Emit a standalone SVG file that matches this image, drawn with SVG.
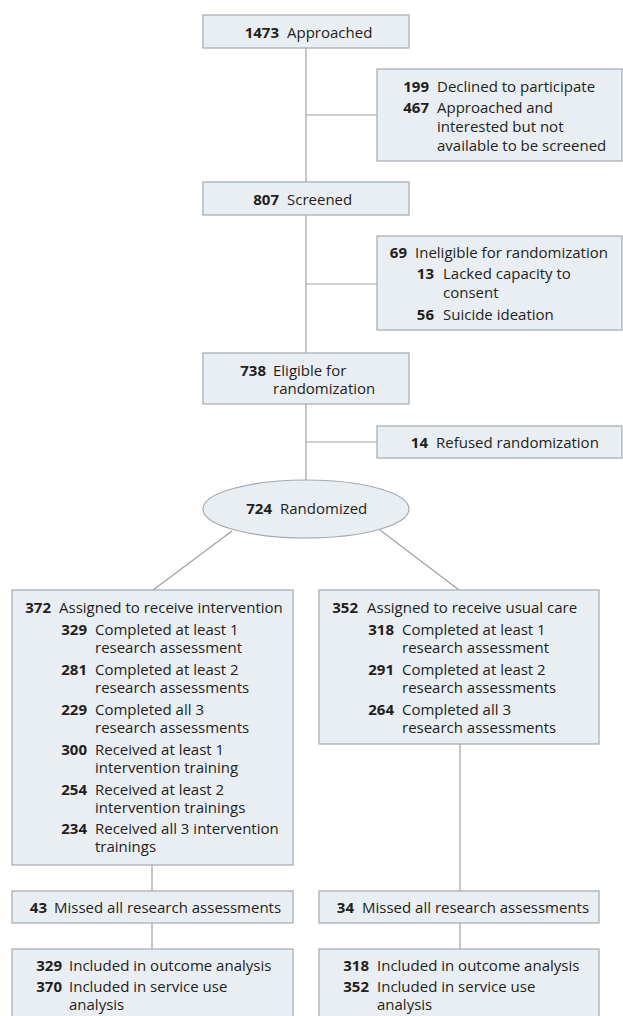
<svg xmlns="http://www.w3.org/2000/svg" width="623" height="1016" viewBox="0 0 623 1016">
<style>
.box{fill:#e9eef2;stroke:#a3aaaf;stroke-width:1.2}
.ln{stroke:#a0a0a0;stroke-width:1.2;fill:none}
text{font-family:"Open Sans","Liberation Sans",sans-serif;font-size:15px;fill:#231f20}
.n{font-weight:bold;text-anchor:end}
</style>
<rect width="623" height="1016" fill="#ffffff"/>
<g id="connectors">
<line class="ln" x1="306" y1="48" x2="306" y2="182"/>
<line class="ln" x1="306" y1="115" x2="377" y2="115"/>
<line class="ln" x1="306" y1="215" x2="306" y2="353"/>
<line class="ln" x1="306" y1="284" x2="377" y2="284"/>
<line class="ln" x1="306" y1="404" x2="306" y2="480"/>
<line class="ln" x1="306" y1="442" x2="377" y2="442"/>
<line class="ln" x1="232" y1="531" x2="153" y2="590"/>
<line class="ln" x1="380" y1="530" x2="459" y2="590"/>
<line class="ln" x1="152" y1="865" x2="152" y2="891"/>
<line class="ln" x1="152" y1="923" x2="152" y2="949"/>
<line class="ln" x1="460" y1="744" x2="460" y2="891"/>
<line class="ln" x1="460" y1="923" x2="460" y2="949"/>
</g>
<g id="approached">
<rect class="box" x="203" y="15" width="206" height="33"/>
<text class="n" x="279" y="38">1473</text><text x="287" y="38">Approached</text>
</g>
<g id="excluded1">
<rect class="box" x="377" y="69" width="245" height="92"/>
<text class="n" x="429" y="92">199</text><text x="437" y="92">Declined to participate</text>
<text class="n" x="429" y="113">467</text><text x="437" y="113">Approached and</text>
<text x="437" y="132">interested but not</text>
<text x="437" y="151">available to be screened</text>
</g>
<g id="screened">
<rect class="box" x="203" y="182" width="206" height="33"/>
<text class="n" x="279" y="205">807</text><text x="287" y="205">Screened</text>
</g>
<g id="excluded2">
<rect class="box" x="377" y="236" width="245" height="94"/>
<text class="n" x="407" y="258">69</text><text x="415" y="258">Ineligible for randomization</text>
<text class="n" x="434" y="279">13</text><text x="443" y="279">Lacked capacity to</text>
<text x="443" y="298">consent</text>
<text class="n" x="434" y="320">56</text><text x="443" y="320">Suicide ideation</text>
</g>
<g id="eligible">
<rect class="box" x="203" y="353" width="206" height="51"/>
<text class="n" x="266" y="376">738</text><text x="273" y="376">Eligible for</text>
<text x="273" y="394">randomization</text>
</g>
<g id="refused">
<rect class="box" x="377" y="426" width="245" height="32"/>
<text class="n" x="428" y="448">14</text><text x="436" y="448">Refused randomization</text>
</g>
<g id="randomized">
<ellipse class="box" cx="306" cy="509" rx="103" ry="29"/>
<text class="n" x="272" y="514">724</text><text x="280" y="514">Randomized</text>
</g>
<g id="intervention">
<rect class="box" x="12" y="590" width="281" height="275"/>
<text class="n" x="51" y="613">372</text><text x="59" y="613">Assigned to receive intervention</text>
<text class="n" x="87" y="635">329</text><text x="95" y="635">Completed at least 1</text>
<text x="95" y="653">research assessment</text>
<text class="n" x="87" y="675">281</text><text x="95" y="675">Completed at least 2</text>
<text x="95" y="693">research assessments</text>
<text class="n" x="87" y="715">229</text><text x="95" y="715">Completed all 3</text>
<text x="95" y="733">research assessments</text>
<text class="n" x="87" y="755">300</text><text x="95" y="755">Received at least 1</text>
<text x="95" y="773">intervention training</text>
<text class="n" x="87" y="795">254</text><text x="95" y="795">Received at least 2</text>
<text x="95" y="813">intervention trainings</text>
<text class="n" x="87" y="834">234</text><text x="95" y="834">Received all 3 intervention</text>
<text x="95" y="852">trainings</text>
</g>
<g id="usualcare">
<rect class="box" x="319" y="590" width="280" height="154"/>
<text class="n" x="358" y="613">352</text><text x="367" y="613">Assigned to receive usual care</text>
<text class="n" x="394" y="635">318</text><text x="402" y="635">Completed at least 1</text>
<text x="402" y="653">research assessment</text>
<text class="n" x="394" y="675">291</text><text x="402" y="675">Completed at least 2</text>
<text x="402" y="693">research assessments</text>
<text class="n" x="394" y="715">264</text><text x="402" y="715">Completed all 3</text>
<text x="402" y="733">research assessments</text>
</g>
<g id="missed-left">
<rect class="box" x="12" y="891" width="281" height="32"/>
<text class="n" x="47" y="913">43</text><text x="54" y="913">Missed all research assessments</text>
</g>
<g id="missed-right">
<rect class="box" x="319" y="891" width="280" height="32"/>
<text class="n" x="354" y="913">34</text><text x="362" y="913">Missed all research assessments</text>
</g>
<g id="analysis-left">
<rect class="box" x="12" y="949" width="281" height="80"/>
<text class="n" x="62" y="971">329</text><text x="69" y="971">Included in outcome analysis</text>
<text class="n" x="62" y="992">370</text><text x="69" y="992">Included in service use</text>
<text x="69" y="1010">analysis</text>
</g>
<g id="analysis-right">
<rect class="box" x="319" y="949" width="280" height="80"/>
<text class="n" x="369" y="971">318</text><text x="377" y="971">Included in outcome analysis</text>
<text class="n" x="369" y="992">352</text><text x="377" y="992">Included in service use</text>
<text x="377" y="1010">analysis</text>
</g>
</svg>
